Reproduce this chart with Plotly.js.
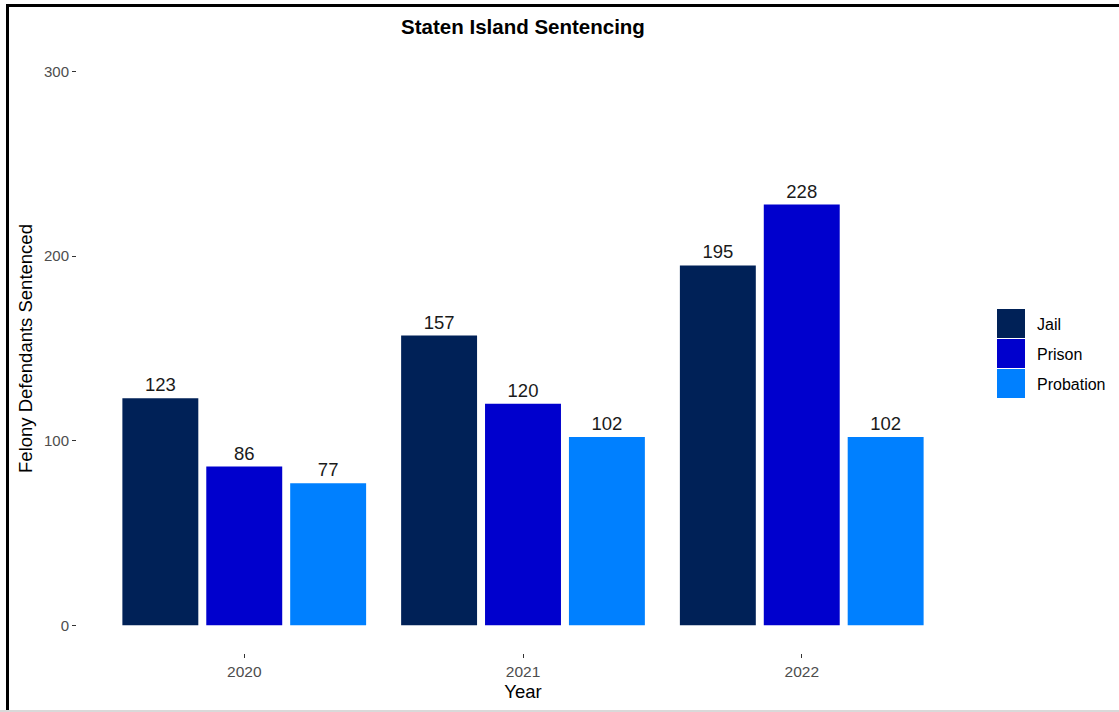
<!DOCTYPE html>
<html>
<head>
<meta charset="utf-8">
<script src="https://cdn.plot.ly/plotly-3.0.1.min.js"></script>
<style>
html,body{margin:0;padding:0;background:#fff;}
#wrap{position:relative;width:1119px;height:712px;overflow:hidden;}
#chart{position:absolute;left:0;top:0;width:1119px;height:712px;}
#bl{position:absolute;left:6px;top:4px;width:3px;height:708px;background:#000;}
#bt{position:absolute;left:6px;top:4px;width:1113px;height:3px;background:#000;}
#bb{position:absolute;left:0;top:710px;width:1119px;height:2px;background:#d9d9d9;}
</style>
</head>
<body>
<div id="wrap">
<div id="chart"></div>
<div id="bl"></div><div id="bt"></div><div id="bb"></div>
</div>
<script>
const years = ["2020", "2021", "2022"];
const seriesNames = ["Jail", "Prison", "Probation"];
const jail = [123, 157, 195];
const prison = [86, 120, 228];
const probation = [77, 102, 102];
const yTicks = [0, 100, 200, 300];

const colors = ["#002157", "#0000CD", "#0080FF"];
const values = [jail, prison, probation];
const FONT = "Liberation Sans, Arial, sans-serif";

const traces = values.map((v, i) => ({
  type: "bar",
  name: seriesNames[i],
  x: years,
  y: v,
  marker: {color: colors[i], line: {width: 0}},
  text: v.map(String),
  textposition: "outside",
  constraintext: "none",
  textfont: {family: FONT, size: 18.5, color: "#1a1a1a"},
  cliponaxis: false,
  showlegend: false,
  hoverinfo: "x+y+name"
}));

// plot area in pixels
const L = 77, R = 969, T = 44, B = 653;
const W = 1119, H = 712;
const px = p => (p - L) / (R - L);
const py = p => (B - p) / (B - T);

const shapes = [];
const annotations = [];
seriesNames.forEach((n, i) => {
  const top = 309 + i * 30;
  shapes.push({type: "rect", xref: "paper", yref: "paper",
    x0: px(997), x1: px(1025), y0: py(top + 29), y1: py(top),
    fillcolor: colors[i], line: {width: 0}});
  annotations.push({xref: "paper", yref: "paper", x: px(1035), y: py(top + 15),
    xanchor: "left", yanchor: "middle", showarrow: false, text: n,
    font: {family: FONT, size: 16, color: "#000"}});
});

const layout = {
  width: W, height: H,
  margin: {l: L, r: W - R, t: T, b: H - B, pad: 0},
  paper_bgcolor: "#fff", plot_bgcolor: "#fff",
  font: {family: FONT},
  barmode: "group",
  bargap: 0.097,
  bargroupgap: 0.095,
  title: {text: "<b>Staten Island Sentencing</b>", x: px(523), xref: "paper",
    xanchor: "center", y: 1 - 27 / H, yanchor: "middle",
    font: {size: 20.5, color: "#000", family: FONT}},
  xaxis: {type: "category", range: [-0.6, 2.6], showgrid: false, zeroline: false,
    showline: false, ticks: "outside", ticklen: 4, tickwidth: 1, tickcolor: "#333",
    tickfont: {size: 15.5, color: "#4d4d4d"},
    title: {text: "Year", font: {size: 18.5, color: "#000"}, standoff: 6}},
  yaxis: {range: [-15, 315], tickvals: yTicks, ticktext: yTicks.map(String),
    showgrid: false, zeroline: false, showline: false,
    ticks: "outside", ticklen: 4, tickwidth: 1, tickcolor: "#333",
    tickfont: {size: 15, color: "#4d4d4d"},
    title: {text: "Felony Defendants Sentenced", font: {size: 18.5, color: "#000"}, standoff: 6}},
  shapes: shapes,
  annotations: annotations,
  showlegend: false
};

Plotly.newPlot("chart", traces, layout, {displayModeBar: false, staticPlot: true});
</script>
</body>
</html>
